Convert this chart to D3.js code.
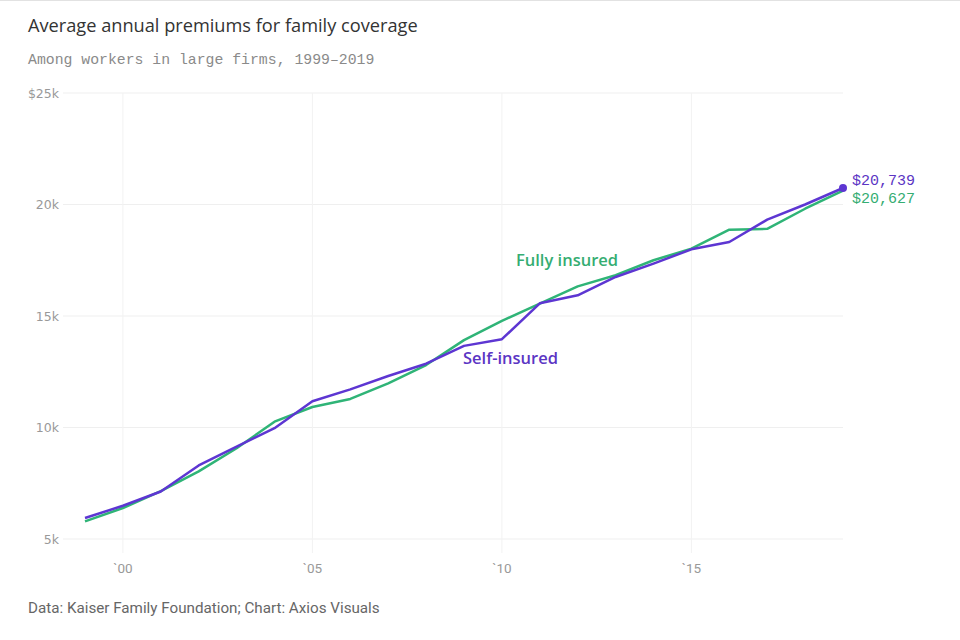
<!DOCTYPE html>
<html>
<head>
<meta charset="utf-8">
<script src="https://cdn.jsdelivr.net/npm/d3@7"></script>
<style>
  body { margin: 0; background: #fff; }
  svg { display: block; }
</style>
</head>
<body>
<div id="chart-area"></div>
<script>
// SVG Size
var width = 960,
	height = 640;

// data
var years = [1999, 2000, 2001, 2002, 2003, 2004, 2005, 2006, 2007, 2008, 2009,
	2010, 2011, 2012, 2013, 2014, 2015, 2016, 2017, 2018, 2019];
var selfInsured = [5940, 6490, 7130, 8300, 9140, 9970, 11180, 11710, 12310, 12860, 13660,
	13960, 15570, 15930, 16750, 17350, 17990, 18320, 19320, 20000, 20739];
var fullyInsured = [5790, 6390, 7150, 8030, 9070, 10260, 10920, 11280, 11980, 12800, 13920,
	14780, 15560, 16330, 16830, 17500, 18020, 18870, 18910, 19810, 20627];
var yTicks = [5000, 10000, 15000, 20000, 25000];
var yTickLabels = ["5k", "10k", "15k", "20k", "$25k"];
var xTicks = [2000, 2005, 2010, 2015];
var xTickLabels = ["`00", "`05", "`10", "`15"];

var purple = "#5d36d2",
	green = "#2fb477";

var svg = d3.select("#chart-area")
	.append("svg")
	.attr("width", width)
	.attr("height", height);

// top border
svg.append("line")
	.attr("x1", 0).attr("x2", width)
	.attr("y1", 0.5).attr("y2", 0.5)
	.attr("stroke", "#e2e2e2");

// title + subtitle
svg.append("text")
	.attr("x", 28).attr("y", 32)
	.attr("font-family", "'Open Sans', sans-serif")
	.attr("font-weight", 500)
	.attr("font-size", 18.2)
	.attr("fill", "#333")
	.text("Average annual premiums for family coverage");

svg.append("text")
	.attr("x", 28).attr("y", 64)
	.attr("font-family", "'Liberation Mono', monospace")
	.attr("font-size", 14.8)
	.attr("fill", "#8a8a8a")
	.text("Among workers in large firms, 1999–2019");

// scales
var xScale = d3.scaleLinear()
	.domain([1999, 2019])
	.range([85, 843]);

var yScale = d3.scaleLinear()
	.domain([5000, 25000])
	.range([539, 93]);

// horizontal grid
svg.append("g")
	.selectAll("line")
	.data(yTicks)
	.enter()
	.append("line")
	.attr("x1", 63).attr("x2", 843)
	.attr("y1", function(d) { return yScale(d); })
	.attr("y2", function(d) { return yScale(d); })
	.attr("stroke", "#efefef");

// vertical grid
svg.append("g")
	.selectAll("line")
	.data(xTicks)
	.enter()
	.append("line")
	.attr("x1", function(d) { return xScale(d); })
	.attr("x2", function(d) { return xScale(d); })
	.attr("y1", 93).attr("y2", 553)
	.attr("stroke", "#f2f2f2");

// y tick labels
svg.append("g")
	.selectAll("text")
	.data(yTicks)
	.enter()
	.append("text")
	.attr("x", 59)
	.attr("y", function(d) { return yScale(d) + 4.5; })
	.attr("text-anchor", "end")
	.attr("font-family", "'DejaVu Sans', sans-serif")
	.attr("font-size", 12.5)
	.attr("fill", "#999")
	.text(function(d, i) { return yTickLabels[i]; });

// x tick labels
svg.append("g")
	.selectAll("text")
	.data(xTicks)
	.enter()
	.append("text")
	.attr("x", function(d) { return xScale(d); })
	.attr("y", 573)
	.attr("text-anchor", "middle")
	.attr("font-family", "Roboto, sans-serif")
	.attr("font-size", 13.5)
	.attr("fill", "#999")
	.text(function(d, i) { return xTickLabels[i]; });

// lines
var line = d3.line()
	.x(function(d, i) { return xScale(years[i]); })
	.y(function(d) { return yScale(d); });

svg.append("path")
	.datum(fullyInsured)
	.attr("d", line)
	.attr("fill", "none")
	.attr("stroke", green)
	.attr("stroke-width", 2.5)
	.attr("stroke-linejoin", "round");

svg.append("path")
	.datum(selfInsured)
	.attr("d", line)
	.attr("fill", "none")
	.attr("stroke", purple)
	.attr("stroke-width", 2.5)
	.attr("stroke-linejoin", "round");

var last = years.length - 1;

svg.append("circle")
	.attr("cx", xScale(years[last]))
	.attr("cy", yScale(selfInsured[last]))
	.attr("r", 4)
	.attr("fill", purple);

// end values
svg.append("text")
	.attr("x", 852)
	.attr("y", 185)
	.attr("font-family", "'Liberation Mono', monospace")
	.attr("font-size", 15)
	.attr("fill", "#5b35c4")
	.text(d3.format("$,")(selfInsured[last]));

svg.append("text")
	.attr("x", 852)
	.attr("y", 203)
	.attr("font-family", "'Liberation Mono', monospace")
	.attr("font-size", 15)
	.attr("fill", "#35ad72")
	.text(d3.format("$,")(fullyInsured[last]));

// series labels
svg.append("text")
	.attr("x", 516).attr("y", 266)
	.attr("font-family", "'Open Sans', sans-serif")
	.attr("font-weight", 600)
	.attr("font-size", 16.5)
	.attr("fill", "#35ad72")
	.text("Fully insured");

svg.append("text")
	.attr("x", 463).attr("y", 364)
	.attr("font-family", "'Open Sans', sans-serif")
	.attr("font-weight", 600)
	.attr("font-size", 16.5)
	.attr("fill", "#5b35c4")
	.text("Self-insured");

// footer
svg.append("text")
	.attr("x", 28).attr("y", 613)
	.attr("font-family", "Roboto, sans-serif")
	.attr("font-size", 15.2)
	.attr("fill", "#666")
	.text("Data: Kaiser Family Foundation; Chart: Axios Visuals");
</script>
</body>
</html>
